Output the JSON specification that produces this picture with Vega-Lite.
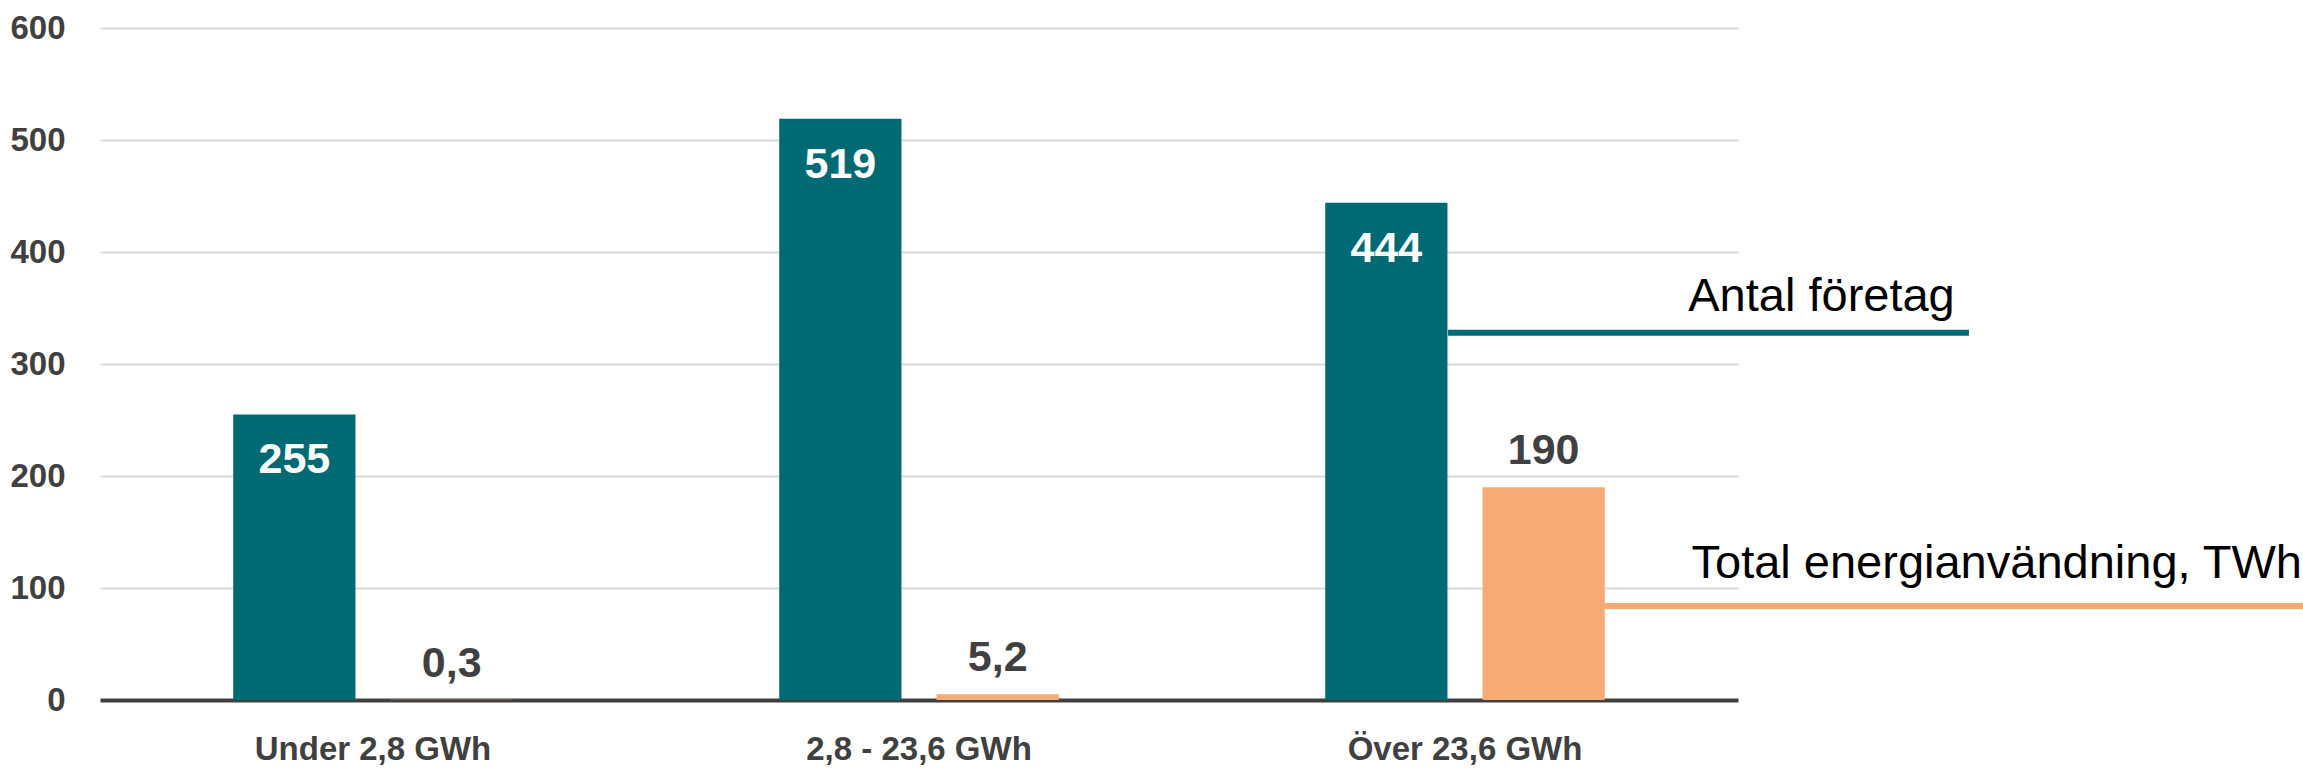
{
  "$schema": "https://vega.github.io/schema/vega-lite/v6.json",
  "autosize": {"type": "none"},
  "padding": {"left": 100, "top": 28, "right": 565, "bottom": 68},
  "width": 1638,
  "height": 672,
  "background": "white",
  "config": {
    "view": {"stroke": null},
    "font": "Liberation Sans"
  },
  "layer": [
    {
      "data": {
        "values": [
          {"kategori": "Under 2,8 GWh", "serie": "Antal företag", "varde": 255, "etikett": "255"},
          {"kategori": "Under 2,8 GWh", "serie": "Total energianvändning, TWh", "varde": 0.3, "etikett": "0,3"},
          {"kategori": "2,8 - 23,6 GWh", "serie": "Antal företag", "varde": 519, "etikett": "519"},
          {"kategori": "2,8 - 23,6 GWh", "serie": "Total energianvändning, TWh", "varde": 5.2, "etikett": "5,2"},
          {"kategori": "Över 23,6 GWh", "serie": "Antal företag", "varde": 444, "etikett": "444"},
          {"kategori": "Över 23,6 GWh", "serie": "Total energianvändning, TWh", "varde": 190, "etikett": "190"}
        ]
      },
      "encoding": {
        "x": {
          "field": "kategori", "type": "nominal", "sort": null,
          "scale": {"paddingInner": 0.488, "paddingOuter": 0.244},
          "axis": {
            "title": null, "labelAngle": 0, "ticks": false, "grid": false,
            "domainColor": "#404040", "domainWidth": 4,
            "labelFont": "Liberation Sans", "labelFontWeight": "bold",
            "labelFontSize": 33, "labelColor": "#404040", "labelLimit": 0,
            "labelBaseline": "alphabetic", "labelPadding": 59
          }
        },
        "xOffset": {
          "field": "serie", "type": "nominal",
          "scale": {"domain": ["Antal företag", "Total energianvändning, TWh"], "paddingInner": 0.223, "paddingOuter": 0}
        },
        "y": {
          "field": "varde", "type": "quantitative",
          "scale": {"domain": [0, 600], "nice": false},
          "axis": {
            "title": null, "values": [0, 100, 200, 300, 400, 500, 600],
            "domain": false, "ticks": false,
            "grid": true, "gridColor": "#d9d9d9", "gridWidth": 2,
            "labelFont": "Liberation Sans", "labelFontWeight": "bold",
            "labelFontSize": 33, "labelColor": "#404040", "labelPadding": 35
          }
        }
      },
      "layer": [
        {
          "mark": {"type": "bar"},
          "encoding": {
            "color": {
              "field": "serie", "type": "nominal", "legend": null,
              "scale": {"domain": ["Antal företag", "Total energianvändning, TWh"], "range": ["#006A74", "#F5AB73"]}
            }
          }
        },
        {
          "transform": [{"filter": "datum.serie === 'Antal företag'"}],
          "mark": {"type": "text", "baseline": "alphabetic", "align": "center", "dy": 59, "fill": "white", "fontWeight": "bold", "fontSize": 43, "font": "Liberation Sans"},
          "encoding": {"text": {"field": "etikett"}}
        },
        {
          "transform": [{"filter": "datum.serie !== 'Antal företag'"}],
          "mark": {"type": "text", "baseline": "alphabetic", "align": "center", "dy": -23, "fill": "#404040", "fontWeight": "bold", "fontSize": 43, "font": "Liberation Sans"},
          "encoding": {"text": {"field": "etikett"}}
        }
      ]
    },
    {
      "data": {
        "values": [
          {"namn": "Antal företag", "start": 2.469, "slut": 3.423, "niva": 328, "textslut": 3.397, "textniva": 347},
          {"namn": "Total energianvändning, TWh", "start": 2.753, "slut": 4.035, "niva": 84, "textslut": 4.033, "textniva": 109}
        ]
      },
      "layer": [
        {
          "mark": {"type": "rule", "strokeWidth": 6},
          "encoding": {
            "x": {"field": "start", "type": "quantitative", "scale": {"domain": [0, 3], "nice": false, "zero": false}, "axis": null},
            "x2": {"field": "slut"},
            "y": {"field": "niva", "type": "quantitative"},
            "color": {"field": "namn", "type": "nominal", "legend": null}
          }
        },
        {
          "mark": {"type": "text", "align": "right", "baseline": "alphabetic", "fontSize": 47, "font": "Liberation Sans", "fill": "#000000"},
          "encoding": {
            "x": {"field": "textslut", "type": "quantitative", "scale": {"domain": [0, 3], "nice": false, "zero": false}, "axis": null},
            "y": {"field": "textniva", "type": "quantitative"},
            "text": {"field": "namn"}
          }
        }
      ]
    }
  ],
  "resolve": {"scale": {"x": "independent"}}
}
